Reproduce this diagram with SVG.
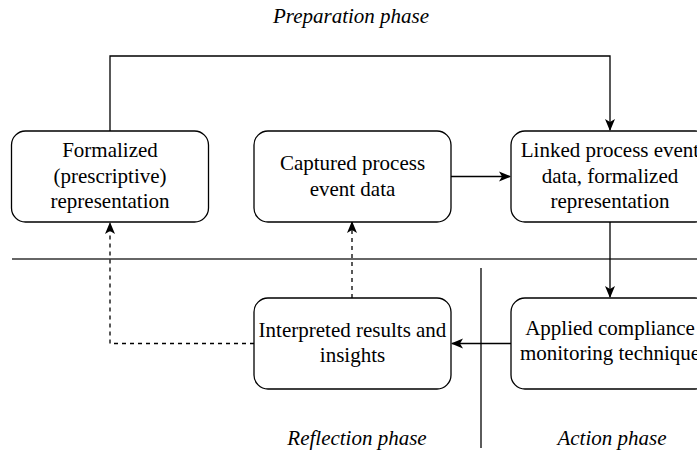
<svg xmlns="http://www.w3.org/2000/svg" width="697" height="453" viewBox="0 0 697 453">
<style>
.box{fill:#fff;stroke:#000;stroke-width:1.3}
.t{font-family:"Liberation Serif","Times New Roman",serif;font-size:21px;fill:#000;text-anchor:middle}
.ph{font-family:"Liberation Serif","Times New Roman",serif;font-size:21px;font-style:italic;fill:#000;text-anchor:middle}
.sep{stroke:#333;stroke-width:1.6;fill:none}
.c{stroke:#000;stroke-width:1.3;fill:none}
.d{stroke-dasharray:4 4}
</style>
<defs>
<marker id="ah" viewBox="0 0 12 12" refX="11" refY="6" markerWidth="12" markerHeight="12" markerUnits="userSpaceOnUse" orient="auto">
<path d="M0,1 L12,6 L0,11 L3,6 z" fill="#000" stroke="none"/>
</marker>
</defs>
<g id="separators">
<line class="sep" x1="12" y1="259" x2="697" y2="259"/>
<line class="sep" x1="481" y1="268" x2="481" y2="448"/>
</g>
<g id="phase-labels">
<text class="ph" x="351" y="23">Preparation phase</text>
<text class="ph" x="357" y="445">Reflection phase</text>
<text class="ph" x="612" y="445">Action phase</text>
</g>
<g id="connectors">
<path class="c" d="M110,131 V56 H610 V130" marker-end="url(#ah)"/>
<path class="c" d="M451,176.5 H510" marker-end="url(#ah)"/>
<path class="c" d="M610,222 V297" marker-end="url(#ah)"/>
<path class="c" d="M511,343.5 H452" marker-end="url(#ah)"/>
<path class="c d" d="M254,343.5 H110 V223" marker-end="url(#ah)"/>
<path class="c d" d="M352,298 V222" marker-end="url(#ah)"/>
</g>
<g id="node-formalized">
<rect class="box" x="11.5" y="131" width="197" height="91" rx="14"/>
<text class="t" x="110" y="157">Formalized</text>
<text class="t" x="110" y="183">(prescriptive)</text>
<text class="t" x="110" y="208">representation</text>
</g>
<g id="node-captured">
<rect class="box" x="254" y="131" width="197" height="91" rx="14"/>
<text class="t" x="352.5" y="170">Captured process</text>
<text class="t" x="352.5" y="196">event data</text>
</g>
<g id="node-linked">
<rect class="box" x="511" y="131" width="198" height="91" rx="14"/>
<text class="t" x="610" y="157">Linked process event</text>
<text class="t" x="610" y="183">data, formalized</text>
<text class="t" x="610" y="208">representation</text>
</g>
<g id="node-interpreted">
<rect class="box" x="254" y="298" width="197" height="91" rx="14"/>
<text class="t" x="352.5" y="337">Interpreted results and</text>
<text class="t" x="352.5" y="362">insights</text>
</g>
<g id="node-applied">
<rect class="box" x="511" y="298" width="198" height="91" rx="14"/>
<text class="t" x="610" y="335">Applied compliance</text>
<text class="t" x="610" y="360">monitoring technique</text>
</g>
</svg>
